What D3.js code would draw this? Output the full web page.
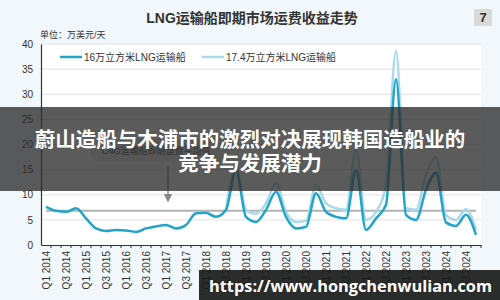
<!DOCTYPE html>
<html>
<head>
<meta charset="utf-8">
<script src="https://cdn.jsdelivr.net/npm/d3@7"></script>
<style>
  body { margin: 0; background: #f1f7fa; }
  svg { display: block; }
</style>
</head>
<body>
<svg id="main-svg" width="500" height="300"></svg>
<script>
// quarters on the x axis
const quarters = [
  "Q1 2014","Q2 2014","Q3 2014","Q4 2014","Q1 2015","Q2 2015","Q3 2015","Q4 2015",
  "Q1 2016","Q2 2016","Q3 2016","Q4 2016","Q1 2017","Q2 2017","Q3 2017","Q4 2017",
  "Q1 2018","Q2 2018","Q3 2018","Q4 2018","Q1 2019","Q2 2019","Q3 2019","Q4 2019",
  "Q1 2020","Q2 2020","Q3 2020","Q4 2020","Q1 2021","Q2 2021","Q3 2021","Q4 2021",
  "Q1 2022","Q2 2022","Q3 2022","Q4 2022","Q1 2023","Q2 2023","Q3 2023","Q4 2023",
  "Q1 2024","Q2 2024","Q3 2024","Q4 2024"
];

// 16万立方米 LNG运输船 (万美元/天)
const series160k = [
  7.6, 6.8, 6.6, 7.3, 5.3, 3.3, 2.8, 3.0,
  2.9, 2.6, 3.3, 3.7, 4.0, 3.3, 4.0, 6.3,
  6.4, 5.6, 7.0, 14.9, 5.6, 4.6, 7.0, 10.6,
  5.6, 3.3, 3.6, 10.3, 6.6, 5.6, 5.3, 14.9,
  3.0, 5.3, 8.0, 33.0, 6.0, 5.0, 11.0, 14.4,
  4.5, 3.8, 6.0, 2.0
];

// 17.4万立方米 LNG运输船 (starts Q3 2018)
const series174k = [
  null, null, null, null, null, null, null, null,
  null, null, null, null, null, null, null, null,
  null, null, 7.2, 15.5, 7.0, 6.2, 8.3, 12.3,
  6.6, 4.6, 4.8, 11.9, 8.3, 7.3, 7.0, 18.9,
  5.0, 6.6, 12.0, 38.6, 7.3, 7.0, 14.0, 17.5,
  6.0, 5.0, 7.1, 3.0
];

const averageValue = 6.8;
const yTicks = [0, 5, 10, 15, 20, 25, 30, 35, 40];
const legendNames = ["16万立方米LNG运输船", "17.4万立方米LNG运输船"];

const darkColor = "#22a4c9";
const lightColor = "#a9d9ea";
const cjk = "'Liberation Sans', Arial, 'Noto Sans CJK SC', sans-serif";

const svg = d3.select("#main-svg");

// plot area
const xScale = d3.scaleBand()
  .domain(quarters)
  .range([41, 481]);

const yScale = d3.scaleLinear()
  .domain([0, 40])
  .range([245, 44]);

svg.append("rect")
  .attr("x", xScale.range()[0])
  .attr("y", yScale(40))
  .attr("width", xScale.range()[1] - xScale.range()[0])
  .attr("height", yScale(0) - yScale(40))
  .attr("fill", "#ffffff");

// grid
svg.append("g")
  .selectAll("line")
  .data(yTicks.filter(d => d > 0))
  .enter()
  .append("line")
  .attr("x1", xScale.range()[0])
  .attr("x2", xScale.range()[1])
  .attr("y1", d => yScale(d))
  .attr("y2", d => yScale(d))
  .attr("stroke", "#e2e2e2")
  .attr("stroke-width", 1);

// title
svg.append("text")
  .attr("x", 252)
  .attr("y", 23)
  .attr("text-anchor", "middle")
  .attr("font-size", "14px")
  .attr("font-weight", "bold")
  .attr("font-family", cjk)
  .attr("fill", "#333")
  .text("LNG运输船即期市场运费收益走势");

// page number badge
svg.append("rect")
  .attr("x", 474).attr("y", 9)
  .attr("width", 18).attr("height", 17)
  .attr("fill", "#d9d9d9");
svg.append("text")
  .attr("x", 483).attr("y", 22)
  .attr("text-anchor", "middle")
  .attr("font-size", "13px")
  .attr("font-weight", "bold")
  .attr("font-family", cjk)
  .attr("fill", "#333")
  .text("7");

// unit label
svg.append("text")
  .attr("x", 40)
  .attr("y", 38)
  .attr("font-size", "9px")
  .attr("font-family", cjk)
  .attr("fill", "#333")
  .text("单位：万美元/天");

// y axis
const yAxis = svg.append("g")
  .attr("transform", `translate(${xScale.range()[0]},0)`)
  .call(d3.axisLeft(yScale).tickValues(yTicks).tickSize(0).tickPadding(8));
yAxis.select(".domain").attr("stroke", "#333").attr("stroke-width", 1.2);
yAxis.selectAll("text")
  .attr("font-size", "10px")
  .attr("font-family", cjk)
  .attr("fill", "#333");

// x axis: labels for Q1/Q3, tick marks between quarters
const xAxis = svg.append("g")
  .attr("transform", `translate(0,${yScale(0)})`)
  .call(d3.axisBottom(xScale)
    .tickValues(quarters.filter(q => q.startsWith("Q1") || q.startsWith("Q3")))
    .tickSize(0)
    .tickPadding(6));
xAxis.select(".domain").attr("stroke", "#333").attr("stroke-width", 1.2);
xAxis.selectAll("text")
  .attr("font-size", "10px")
  .attr("font-family", cjk)
  .attr("fill", "#333")
  .attr("text-anchor", "end")
  .attr("dy", "0.35em")
  .attr("transform", "rotate(-90)")
  .attr("x", -6)
  .attr("y", 0);

xAxis.selectAll(".boundary")
  .data(quarters)
  .enter()
  .append("line")
  .attr("class", "boundary")
  .attr("x1", d => xScale(d) + xScale.bandwidth())
  .attr("x2", d => xScale(d) + xScale.bandwidth())
  .attr("y1", 0)
  .attr("y2", 3)
  .attr("stroke", "#333");

// average line
const xCenter = q => xScale(q) + xScale.bandwidth() / 2;
svg.append("line")
  .attr("x1", xCenter(quarters[0]))
  .attr("x2", xCenter(quarters[quarters.length - 1]))
  .attr("y1", yScale(averageValue))
  .attr("y2", yScale(averageValue))
  .attr("stroke", "#b3b3b3")
  .attr("stroke-width", 2);

// series lines
const line = d3.line()
  .defined(d => d.v != null)
  .x(d => xCenter(d.q))
  .y(d => yScale(d.v))
  .curve(d3.curveMonotoneX);

svg.append("path")
  .datum(quarters.map((q, i) => ({ q: q, v: series174k[i] })))
  .attr("fill", "none")
  .attr("stroke", lightColor)
  .attr("stroke-width", 2.5)
  .attr("d", line);

svg.append("path")
  .datum(quarters.map((q, i) => ({ q: q, v: series160k[i] })))
  .attr("fill", "none")
  .attr("stroke", darkColor)
  .attr("stroke-width", 2.5)
  .attr("d", line);

// legend
const legend = svg.append("g");
[[60, darkColor], [202, lightColor]].forEach((item, i) => {
  legend.append("line")
    .attr("x1", item[0]).attr("x2", item[0] + 22)
    .attr("y1", 57).attr("y2", 57)
    .attr("stroke", item[1])
    .attr("stroke-width", 2.5);
  legend.append("text")
    .attr("x", item[0] + 24)
    .attr("y", 60.5)
    .attr("font-size", "10px")
    .attr("font-family", cjk)
    .attr("fill", "#333")
    .text(legendNames[i]);
});

// callout for the average line
svg.append("rect")
  .attr("x", 90).attr("y", 139)
  .attr("width", 140).attr("height", 22)
  .attr("rx", 8)
  .attr("fill", "#ececec");
svg.append("text")
  .attr("x", 102).attr("y", 154)
  .attr("font-size", "9px")
  .attr("font-family", cjk)
  .attr("fill", "#444")
  .text("LNG运输船即期运费平均值");
svg.append("defs").append("marker")
  .attr("id", "arrow")
  .attr("viewBox", "0 0 10 10")
  .attr("refX", 5).attr("refY", 5)
  .attr("markerWidth", 6).attr("markerHeight", 6)
  .attr("orient", "auto")
  .append("path")
  .attr("d", "M0,0 L10,5 L0,10 z")
  .attr("fill", "#888");
svg.append("line")
  .attr("x1", 168).attr("x2", 168)
  .attr("y1", 166).attr("y2", 198)
  .attr("stroke", "#888")
  .attr("stroke-width", 1.5)
  .attr("marker-end", "url(#arrow)");

// headline overlay band
svg.append("rect")
  .attr("x", 0).attr("y", 107)
  .attr("width", 500).attr("height", 84)
  .attr("fill", "rgba(45,45,45,0.78)");
const headline = ["蔚山造船与木浦市的激烈对决展现韩国造船业的", "竞争与发展潜力"];
svg.selectAll(".headline")
  .data(headline)
  .enter()
  .append("text")
  .attr("class", "headline")
  .attr("x", 250)
  .attr("y", (d, i) => 138 + i * 24)
  .attr("text-anchor", "middle")
  .attr("dominant-baseline", "central")
  .attr("font-size", "20.5px")
  .attr("font-weight", "bold")
  .attr("font-family", "'Noto Sans CJK SC', sans-serif")
  .attr("fill", "#ffffff")
  .text(d => d);

// url watermark
svg.append("rect")
  .attr("x", 199).attr("y", 270)
  .attr("width", 301).attr("height", 30)
  .attr("fill", "rgba(28,28,28,0.93)");
svg.append("text")
  .attr("x", 209).attr("y", 292)
  .attr("font-size", "16px")
  .attr("font-weight", "bold")
  .attr("font-family", "'Open Sans', sans-serif")
  .attr("fill", "#ffffff")
  .attr("textLength", 283)
  .attr("lengthAdjust", "spacingAndGlyphs")
  .text("https://www.hongchenwulian.com");
</script>
</body>
</html>
